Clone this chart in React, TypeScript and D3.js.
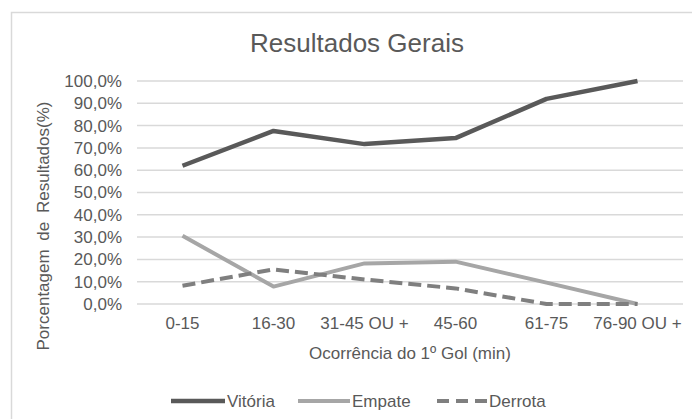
import * as d3 from 'd3';

const categories = ['0-15', '16-30', '31-45 OU +', '45-60', '61-75', '76-90 OU +'];
const vitoria = [62.0, 77.6, 71.7, 74.4, 92.0, 100.0];
const empate = [30.6, 7.8, 18.2, 19.0, 9.6, 0.0];
const derrota = [8.2, 15.5, 11.0, 7.0, 0.0, 0.0];
const yTicks = [0, 10, 20, 30, 40, 50, 60, 70, 80, 90, 100];

const W = 692;
const H = 419;
const FONT = '"Liberation Sans", Arial, sans-serif';
const TEXT = '#595959';

const series = [
  { name: 'Vitória', values: vitoria, color: '#595959', width: 4.5, dash: '' },
  { name: 'Empate', values: empate, color: '#a6a6a6', width: 4, dash: '' },
  { name: 'Derrota', values: derrota, color: '#7f7f7f', width: 4, dash: '13,6' },
];

export default function App() {
  const x = d3.scalePoint<string>().domain(categories).range([137, 683]).padding(0.5);
  const y = d3.scaleLinear().domain([0, 100]).range([304, 81]);

  const line = d3
    .line<number>()
    .x((_, i) => x(categories[i]) as number)
    .y((d) => y(d));

  const fmt = (v: number) => `${v.toFixed(1).replace('.', ',')}%`;

  // legend placement (line sample start/end, label follows)
  const legend = [
    { x0: 171, x1: 225 },
    { x0: 298, x1: 350 },
    { x0: 437, x1: 487 },
  ];

  return (
    <svg
      width={W}
      height={H}
      style={{ position: 'absolute', left: 0, top: 0, background: '#fff' }}
      fontFamily={FONT}
    >
      <rect x={11.5} y={12.5} width={W} height={H} fill="#fff" stroke="#d9d9d9" strokeWidth={1.5} />

      <text x={357} y={52} textAnchor="middle" fontSize={26} fill={TEXT}>
        Resultados Gerais
      </text>

      {yTicks.map((t) => (
        <g key={t}>
          <line x1={137} x2={683} y1={y(t)} y2={y(t)} stroke="#d9d9d9" strokeWidth={1.5} />
          <text x={122} y={y(t)} dy="0.35em" textAnchor="end" fontSize={17} fill={TEXT}>
            {fmt(t)}
          </text>
        </g>
      ))}

      {categories.map((c) => (
        <text key={c} x={x(c)} y={329} textAnchor="middle" fontSize={17} fill={TEXT}>
          {c}
        </text>
      ))}

      <text x={410} y={359} textAnchor="middle" fontSize={17} fill={TEXT}>
        Ocorrência do 1º Gol (min)
      </text>

      <text
        transform="translate(49,226) rotate(-90)"
        textAnchor="middle"
        fontSize={17}
        fill={TEXT}
        style={{ wordSpacing: '4px' }}
      >
        Porcentagem de Resultados(%)
      </text>

      {series.map((s) => (
        <path
          key={s.name}
          d={line(s.values) ?? ''}
          fill="none"
          stroke={s.color}
          strokeWidth={s.width}
          strokeDasharray={s.dash || undefined}
          strokeLinejoin="round"
        />
      ))}

      {series.map((s, i) => (
        <g key={s.name}>
          <line
            x1={legend[i].x0}
            x2={legend[i].x1}
            y1={401}
            y2={401}
            stroke={s.color}
            strokeWidth={s.width}
            strokeDasharray={s.dash ? '12,7' : undefined}
          />
          <text x={legend[i].x1 + 2} y={401} dy="0.35em" fontSize={17} fill={TEXT}>
            {s.name}
          </text>
        </g>
      ))}
    </svg>
  );
}
